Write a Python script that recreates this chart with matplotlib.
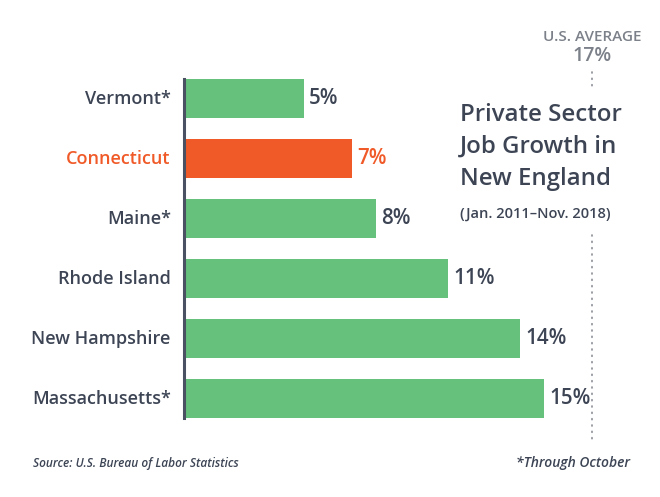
import matplotlib
matplotlib.use("Agg")
import matplotlib.pyplot as plt

states = ["Vermont*", "Connecticut", "Maine*", "Rhode Island", "New Hampshire", "Massachusetts*"]
growth = [5, 7, 8, 11, 14, 15]
highlight = "Connecticut"
us_average = 17

GREEN = "#66c17c"
ORANGE = "#f05a28"
DARK = "#3d4555"
GREY = "#7b8089"
FONT = "Open Sans"

W, H = 660, 497
fig = plt.figure(figsize=(W / 100, H / 100), dpi=100)

def fx(px):
    return px / W

def fy(py):
    return 1 - py / H

left_px, right_px = 184, 184 + 24 * 18
top_px, bot_px = 68.5, 428.5
ax = fig.add_axes([fx(left_px), fy(bot_px), (right_px - left_px) / W, (bot_px - top_px) / H])
ax.set_xlim(0, 18)
ax.set_ylim(5.5, -0.5)

ypos = list(range(len(states)))
colors = [ORANGE if s == highlight else GREEN for s in states]
ax.barh(ypos, growth, height=0.65, color=colors, left=0)

for y, v, s in zip(ypos, growth, states):
    c = ORANGE if s == highlight else DARK
    ax.text(v + 0.22, y, f"{v}%", ha="left", va="center", fontsize=14.8,
            color=c, fontfamily=FONT, fontweight="semibold")
    ax.text(-0.55, y, s, ha="right", va="center", fontsize=13,
            color=c, fontfamily=FONT, fontweight="semibold")

for sp in ["top", "right", "bottom"]:
    ax.spines[sp].set_visible(False)
ax.spines["left"].set_color("#4a5163")
ax.spines["left"].set_linewidth(2.2)
ax.spines["left"].set_bounds(-0.325, 5.325)
ax.set_xticks([])
ax.set_yticks([])
ax.patch.set_alpha(0)

ax.plot([us_average, us_average], [-0.44, -0.175], color="#8a8e96", lw=1.2,
        linestyle=(0, (0.6, 3.2)), clip_on=False, dash_capstyle="round")
ax.plot([us_average, us_average], [2.275, 5.725], color="#8a8e96", lw=1.2,
        linestyle=(0, (0.6, 3.2)), clip_on=False, dash_capstyle="round")

fig.text(fx(592), fy(37), "U.S. AVERAGE", ha="center", va="center", fontsize=11,
         color=GREY, fontfamily=FONT, fontweight="semibold")
fig.text(fx(592), fy(56), f"{us_average}%", ha="center", va="center", fontsize=14,
         color=GREY, fontfamily=FONT, fontweight="semibold")

for i, line in enumerate(["Private Sector", "Job Growth in", "New England"]):
    fig.text(fx(460), fy(115 + 32 * i), line, ha="left", va="center", fontsize=17.3,
             color=DARK, fontfamily=FONT, fontweight="semibold")
fig.text(fx(460), fy(214), "(Jan. 2011\u2013Nov. 2018)", ha="left", va="center",
         fontsize=10.5, color=DARK, fontfamily=FONT, fontweight="semibold")

fig.text(fx(33), fy(463), "Source: U.S. Bureau of Labor Statistics", ha="left", va="center",
         fontsize=8.6, color=DARK, fontfamily=FONT, fontweight="semibold", fontstyle="italic")
fig.text(fx(630), fy(463), "*Through October", ha="right", va="center",
         fontsize=10, color=DARK, fontfamily=FONT, fontweight="semibold", fontstyle="italic")

fig.savefig("out.png", dpi=100)
